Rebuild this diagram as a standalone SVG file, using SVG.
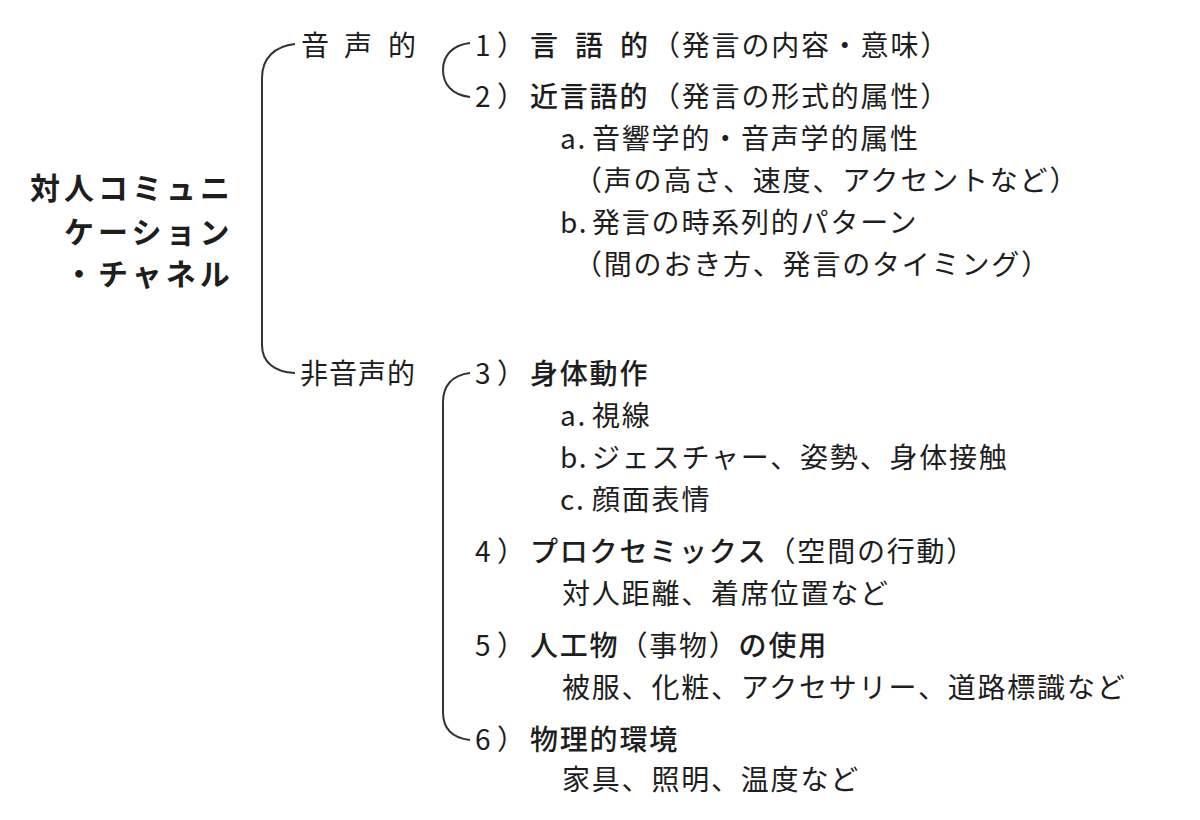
<svg xmlns="http://www.w3.org/2000/svg" width="1200" height="820" viewBox="0 0 1200 820">
<style>
text{font-family:"Noto Sans CJK JP","Noto Sans",sans-serif;fill:#1e1e1e;font-size:28px;letter-spacing:1.8px}
.title{font-size:30px;font-weight:700;letter-spacing:4px}
.b{font-weight:500}
.r{font-weight:400}
.br{fill:none;stroke:#333;stroke-width:2}
</style>
<rect width="1200" height="820" fill="#fff"/>
<g id="connectors">
<path class="br" d="M295,44 C275,46 262,58 262,78 L262,345 C262,362 274,372 295,373"/>
<path class="br" d="M470,43 C452,45 443,56 443,70 C443,84 452,95 470,97"/>
<path class="br" d="M470,373 C452,375 443,386 443,402 L443,712 C443,728 452,738 470,740"/>
</g>
<g id="root">
<text class="title" x="30" y="199">対人コミュニ</text>
<text class="title" x="64" y="243">ケーション</text>
<text class="title" x="64" y="285">・チャネル</text>
</g>
<g id="onsei">
<text y="56"><tspan x="301">音</tspan><tspan x="344">声</tspan><tspan x="388">的</tspan></text>
</g>
<g id="hionsei">
<text x="300" y="384" style="letter-spacing:1px">非音声的</text>
</g>
<g id="item1">
<text y="56"><tspan x="475">1</tspan><tspan x="497">）</tspan><tspan x="530" class="b">言</tspan><tspan x="575" class="b">語</tspan><tspan x="620" class="b">的</tspan><tspan x="652">（発言の内容・意味）</tspan></text>
</g>
<g id="item2">
<text y="107"><tspan x="475">2</tspan><tspan x="497">）</tspan><tspan x="530" class="b">近言語的</tspan><tspan x="652">（発言の形式的属性）</tspan></text>
<text y="149"><tspan x="560">a.</tspan><tspan x="592">音響学的・音声学的属性</tspan></text>
<text y="191" x="574">（声の高さ、速度、アクセントなど）</text>
<text y="233"><tspan x="560">b.</tspan><tspan x="592">発言の時系列的パターン</tspan></text>
<text y="275" x="574">（間のおき方、発言のタイミング）</text>
</g>
<g id="item3">
<text y="384"><tspan x="475">3</tspan><tspan x="497">）</tspan><tspan x="530" class="b">身体動作</tspan></text>
<text y="426"><tspan x="560">a.</tspan><tspan x="592">視線</tspan></text>
<text y="468"><tspan x="560">b.</tspan><tspan x="592">ジェスチャー、姿勢、身体接触</tspan></text>
<text y="510"><tspan x="560">c.</tspan><tspan x="592">顔面表情</tspan></text>
</g>
<g id="item4">
<text y="562"><tspan x="475">4</tspan><tspan x="497">）</tspan><tspan x="530" class="b">プロクセミックス</tspan><tspan class="r">（空間の行動）</tspan></text>
<text y="604" x="562">対人距離、着席位置など</text>
</g>
<g id="item5">
<text y="656"><tspan x="475">5</tspan><tspan x="497">）</tspan><tspan x="530" class="b">人工物</tspan><tspan class="r">（事物）</tspan><tspan class="b">の使用</tspan></text>
<text y="698" x="562">被服、化粧、アクセサリー、道路標識など</text>
</g>
<g id="item6">
<text y="750"><tspan x="475">6</tspan><tspan x="497">）</tspan><tspan x="530" class="b">物理的環境</tspan></text>
<text y="790" x="562">家具、照明、温度など</text>
</g>
</svg>
